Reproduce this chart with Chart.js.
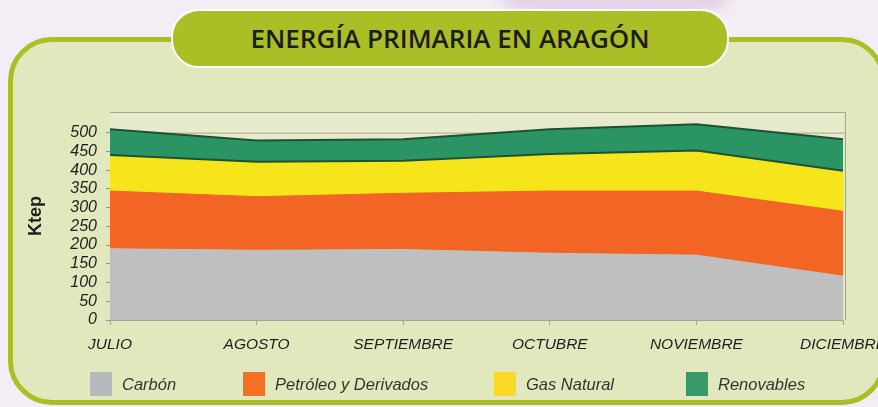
<!DOCTYPE html>
<html>
<head>
<meta charset="utf-8">
<script src="https://cdn.jsdelivr.net/npm/chart.js@4.4.1/dist/chart.umd.min.js"></script>
<style>
    html, body {
        margin: 0;
        padding: 0;
        width: 878px;
        height: 407px;
        overflow: hidden;
        background: #f3eef5;
        font-family: "Liberation Sans", Arial, sans-serif;
    }
    #blob {
        position: absolute;
        left: 500px;
        top: -22px;
        width: 230px;
        height: 42px;
        border-radius: 50%;
        background: rgba(205, 170, 215, 0.4);
        filter: blur(6px);
    }
    #panel {
        position: absolute;
        left: 8px;
        top: 37px;
        width: 878px;
        height: 368px;
        box-sizing: border-box;
        border: 5px solid #a9bf25;
        border-radius: 44px;
        background: #e2e8be;
    }
    #title {
        position: absolute;
        left: 171px;
        top: 9px;
        width: 558px;
        height: 59px;
        box-sizing: border-box;
        border: 2px solid #ffffff;
        border-radius: 28px;
        background: #a9bf25;
        color: #1c1c1c;
        font: 600 26px "Open Sans", sans-serif;
        text-align: center;
        line-height: 55px;
    }
    #wrap {
        position: absolute;
        left: 0;
        top: 0;
        width: 900px;
        height: 407px;
    }
    #legend {
        position: absolute;
        left: 0;
        top: 372px;
        width: 878px;
        height: 24px;
    }
    .item {
        position: absolute;
        top: 0;
        height: 24px;
        white-space: nowrap;
    }
    .item:nth-child(1) { left: 90px; }
    .item:nth-child(2) { left: 243px; }
    .item:nth-child(3) { left: 494px; }
    .item:nth-child(4) { left: 686px; }
    .box {
        display: inline-block;
        width: 22px;
        height: 24px;
        vertical-align: top;
    }
    .txt {
        display: inline-block;
        margin-left: 10px;
        font: italic 16.5px "Liberation Sans", Arial, sans-serif;
        color: #333333;
        line-height: 24px;
        vertical-align: top;
    }
</style>
</head>
<body>
<div id="blob"></div>
<div id="panel"></div>
<div id="title">ENERGÍA PRIMARIA EN ARAGÓN</div>
<div id="wrap"><canvas id="chart"></canvas></div>
<div id="legend"></div>

<script>
    // months (x) and monthly values in ktep, stacked
    var months = ["JULIO", "AGOSTO", "SEPTIEMBRE", "OCTUBRE", "NOVIEMBRE", "DICIEMBRE"];
    var carbon = [190, 186, 188, 178, 173, 117];
    var petroleo = [154, 143, 150, 166, 171, 173];
    var gas = [96, 93, 87, 99, 108, 108];
    var renovables = [69, 57, 57, 66, 70, 84];
    var yTicks = [0, 50, 100, 150, 200, 250, 300, 350, 400, 450, 500];

    var names = ["Carbón", "Petróleo y Derivados", "Gas Natural", "Renovables"];
    var fills = ["#bfbfbf", "#f26524", "#f6e51b", "#2b9464"];
    var swatches = ["#b6b9b9", "#f37024", "#fcd926", "#399867"];
    var edge = "#1d5134";

    var legend = document.getElementById('legend');
    for (var i = 0; i < names.length; i++) {
        var item = document.createElement('div');
        item.className = 'item';
        item.innerHTML = '<span class="box" style="background:' + swatches[i] + '"></span>' +
            '<span class="txt">' + names[i] + '</span>';
        legend.appendChild(item);
    }

    var plotFrame = {
        id: 'plotFrame',
        beforeDatasetsDraw: function (chart) {
            var a = chart.chartArea;
            var ctx = chart.ctx;
            ctx.save();
            ctx.fillStyle = '#e7ebcb';
            ctx.fillRect(a.left, a.top, a.right - a.left, a.bottom - a.top);
            ctx.strokeStyle = '#a4a88a';
            ctx.lineWidth = 1;
            ctx.beginPath();
            ctx.moveTo(a.left, a.top + 0.5);
            ctx.lineTo(a.right + 2, a.top + 0.5);
            ctx.moveTo(a.right + 2.5, a.top);
            ctx.lineTo(a.right + 2.5, a.bottom);
            ctx.stroke();
            // 500 line
            var y500 = chart.scales.y.getPixelForValue(500);
            ctx.beginPath();
            ctx.moveTo(a.left, y500 + 0.5);
            ctx.lineTo(a.right + 2, y500 + 0.5);
            ctx.stroke();
            ctx.restore();
        }
    };

    function series(label, data, idx, fill, border) {
        return {
            label: label,
            data: data,
            backgroundColor: fills[idx],
            borderColor: border || fills[idx],
            borderWidth: border ? 2 : 1,
            fill: fill,
            pointRadius: 0,
            tension: 0
        };
    }

    var ctx = document.getElementById('chart').getContext('2d');
    var chart = new Chart(ctx, {
        type: 'line',
        data: {
            labels: months,
            datasets: [
                series(names[0], carbon, 0, 'origin'),
                series(names[1], petroleo, 1, '-1'),
                series(names[2], gas, 2, '-1', edge),
                series(names[3], renovables, 3, '-1', edge)
            ]
        },
        plugins: [plotFrame],
        options: {
            responsive: true,
            maintainAspectRatio: false,
            animation: false,
            layout: {
                padding: {top: 112, right: 57, bottom: 47, left: 21}
            },
            plugins: {
                legend: {display: false},
                tooltip: {enabled: false}
            },
            scales: {
                x: {
                    offset: false,
                    afterFit: function (scale) { scale.height = 40; },
                    grid: {
                        color: 'transparent',
                        tickColor: '#a4a88a',
                        tickLength: 5
                    },
                    border: {color: '#a4a88a'},
                    ticks: {
                        padding: 10,
                        maxRotation: 0,
                        autoSkip: false,
                        color: '#1e1e1e',
                        font: {family: 'Liberation Sans', size: 15.5, style: 'italic'}
                    }
                },
                y: {
                    stacked: true,
                    min: 0,
                    max: 555,
                    afterFit: function (scale) { scale.width = 89; },
                    afterBuildTicks: function (scale) {
                        scale.ticks = yTicks.map(function (v) { return {value: v}; });
                    },
                    grid: {
                        color: 'transparent',
                        tickColor: '#8f9475',
                        tickLength: 4
                    },
                    border: {color: '#a4a88a'},
                    title: {
                        display: true,
                        text: 'Ktep',
                        color: '#1e1e1e',
                        font: {family: 'Liberation Sans', size: 18, weight: 'bold'}
                    },
                    ticks: {
                        padding: 9,
                        autoSkip: false,
                        color: '#1e1e1e',
                        font: {family: 'Liberation Sans', size: 16, style: 'italic', lineHeight: 1}
                    }
                }
            }
        }
    });
</script>
</body>
</html>
